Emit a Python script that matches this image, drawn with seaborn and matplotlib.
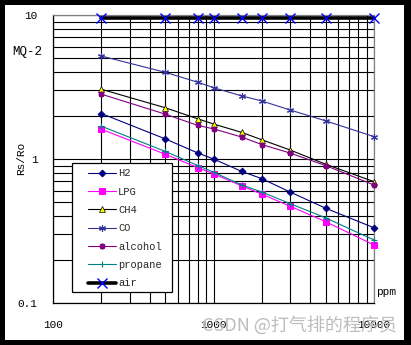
import matplotlib
matplotlib.use("Agg")
import matplotlib.pyplot as plt
import seaborn as sns
from matplotlib.patches import Rectangle
from matplotlib.ticker import FixedLocator, FixedFormatter, NullFormatter, LogLocator

# ---- data ----
ppm = [200, 500, 800, 1000, 1500, 2000, 3000, 5000, 10000]
h2 = [2.07, 1.38, 1.10, 1.00, 0.82, 0.73, 0.59, 0.455, 0.333]
lpg = [1.61, 1.08, 0.87, 0.79, 0.65, 0.57, 0.47, 0.367, 0.253]
ch4 = [3.05, 2.27, 1.90, 1.75, 1.53, 1.36, 1.155, 0.92, 0.696]
co = [5.19, 4.00, 3.41, 3.13, 2.74, 2.53, 2.19, 1.84, 1.43]
alcohol = [2.82, 2.05, 1.71, 1.62, 1.42, 1.26, 1.10, 0.90, 0.66]
propane = [1.69, 1.13, 0.90, 0.81, 0.66, 0.59, 0.49, 0.39, 0.274]
air = [9.5, 9.5, 9.5, 9.5, 9.5, 9.5, 9.5, 9.5, 9.5]
labels = ["H2", "LPG", "CH4", "CO", "alcohol", "propane", "air"]
x_ticks = [100, 1000, 10000]
x_tick_labels = ["100", "1000", "10000"]
y_ticks = [0.1, 1, 10]
y_tick_labels = ["0.1", "1", "10"]

sns.set_theme(style="white")
plt.rcParams["font.family"] = ["Liberation Mono", "DejaVu Sans"]

W, H = 411, 345
fig = plt.figure(figsize=(W / 100, H / 100), dpi=100, facecolor="black")
fig.patches.append(Rectangle((5 / W, 5 / H), 399 / W, 335 / H, transform=fig.transFigure,
                             facecolor="white", edgecolor="none", zorder=-10))
ax = fig.add_axes([53 / W, 42 / H, 321 / W, 288 / H])
ax.set_facecolor("white")
ax.set_xscale("log")
ax.set_yscale("log")

star = (6, 2, 0)
styles = [
    (h2, dict(color="#000080", marker="D", markersize=3.4, markeredgecolor="#000080", lw=0.8)),
    (lpg, dict(color="#ff00ff", marker="s", markersize=4.2, markeredgecolor="#ff00ff", lw=0.8)),
    (ch4, dict(color="black", marker="^", markersize=4.6, markerfacecolor="#ffff00",
               markeredgecolor="black", markeredgewidth=0.5, lw=0.8)),
    (co, dict(color="#333399", marker=star, markersize=5, markeredgecolor="#333399",
              markeredgewidth=0.8, lw=0.8)),
    (alcohol, dict(color="#800080", marker=star, markersize=4, markeredgecolor="#800080",
                   markeredgewidth=1.6, lw=0.8)),
    (propane, dict(color="#008080", marker="+", markersize=5, markeredgecolor="#008080",
                   markeredgewidth=0.8, lw=0.8)),
    (air, dict(color="black", marker="x", markersize=7, markeredgecolor="#0000ff",
               markeredgewidth=1.0, lw=2.6)),
]
for (vals, kw), lab in zip(styles, labels):
    sns.lineplot(x=ppm, y=vals, ax=ax, label=lab, clip_on=False, zorder=3, **kw)

ax.set_xlim(100, 10000)
ax.set_ylim(0.1, 10)
ax.set_axisbelow(True)

ax.xaxis.set_major_locator(FixedLocator(x_ticks))
ax.xaxis.set_major_formatter(FixedFormatter(x_tick_labels))
ax.yaxis.set_major_locator(FixedLocator(y_ticks))
ax.yaxis.set_major_formatter(FixedFormatter(y_tick_labels))
for axis in (ax.xaxis, ax.yaxis):
    axis.set_minor_locator(LogLocator(base=10, subs=[2, 3, 4, 5, 6, 7, 8, 9]))
    axis.set_minor_formatter(NullFormatter())
ax.grid(True, which="both", color="black", lw=0.8)
ax.tick_params(which="both", length=0, labelsize=8, colors="black")
ax.tick_params(axis="y", pad=11)
ax.tick_params(axis="x", pad=12)
ax.set_xlabel("")
ax.set_ylabel("")

for s in ("left", "bottom"):
    ax.spines[s].set_color("black")
    ax.spines[s].set_linewidth(0.9)
for s in ("top", "right"):
    ax.spines[s].set_color("#808080")
    ax.spines[s].set_linewidth(0.9)

# legend box
ax.add_patch(Rectangle((0.0583, 0.0392), 0.3115, 0.447, transform=ax.transAxes,
                       facecolor="white", edgecolor="black", lw=0.9, zorder=4.5))
leg = ax.legend(loc="upper left", bbox_to_anchor=(0.108, 0.468), borderaxespad=0,
                borderpad=0, frameon=False, fontsize=7.5, handlelength=2.7,
                handletextpad=0.2, labelspacing=0.80)
leg.set_zorder(5)

fig.text(27 / W, 1 - 52 / H, "MQ-2", ha="center", va="center", fontsize=9, color="black")
fig.text(21 / W, 1 - 158 / H, "Rs/Ro", ha="center", va="center", rotation=90,
         fontsize=8, color="black")
fig.text(376 / W, 1 - 292 / H, "ppm", ha="left", va="center", fontsize=8, color="black")
fig.text(397 / W, 1 - 325 / H, "CSDN @打气排的程序员", ha="right", va="center", fontsize=13,
         color="#bdbdbd", family=["Noto Sans CJK SC", "DejaVu Sans"])

fig.savefig("out.png", dpi=100, facecolor="black")
